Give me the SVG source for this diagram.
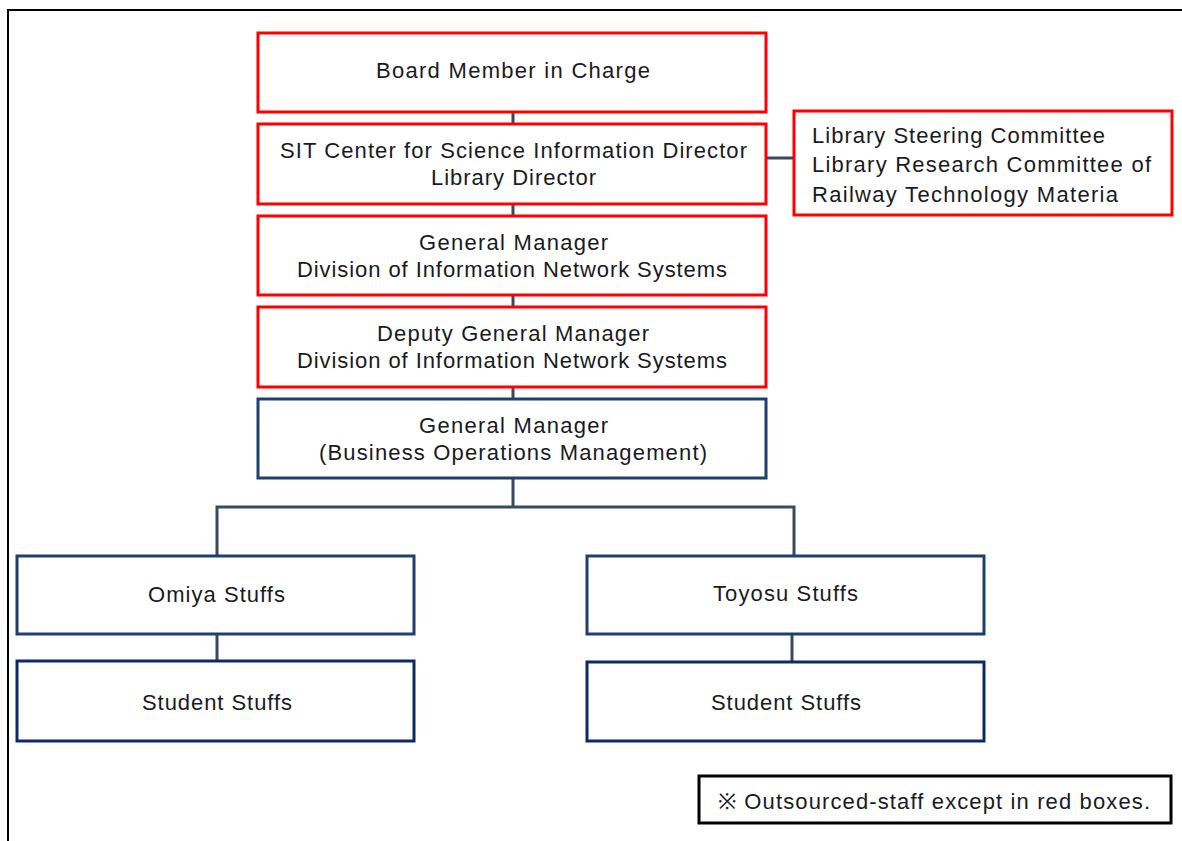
<svg xmlns="http://www.w3.org/2000/svg" width="1182" height="841" viewBox="0 0 1182 841">
<style>
.red{fill:#fff;stroke:#ff0000;stroke-width:3}
.blue{fill:#fff;stroke:#1f3f6e;stroke-width:3}
.navy{fill:#fff;stroke:#0c2a66;stroke-width:3}
.note{fill:#fff;stroke:#000;stroke-width:3}
text{font-family:"Liberation Sans",Arial,sans-serif;font-size:22px;fill:#1a1a22}
.con{fill:none;stroke:#3a4a5e;stroke-width:3}
</style>
<rect x="0" y="0" width="1182" height="841" fill="#fff"/>
<path d="M8,841 V10 H1182" fill="none" stroke="#000" stroke-width="2"/>
<g id="connectors">
<path class="con" d="M513,112 V124 M513,204 V216 M513,295 V307 M513,387 V399 M766,158 H794"/>
<path class="con" d="M513,478 V507 M217,556 V507 H794 V556 M217,634 V661 M792,634 V662"/>
</g>
<g id="board"><rect class="red" x="258" y="33" width="508" height="79"/><text x="376" y="78" textLength="274" lengthAdjust="spacing">Board Member in Charge</text></g>
<g id="sit"><rect class="red" x="258" y="124" width="508" height="80"/><text x="280" y="158" textLength="467" lengthAdjust="spacing">SIT Center for Science Information Director</text><text x="431" y="185" textLength="165" lengthAdjust="spacing">Library Director</text></g>
<g id="committee"><rect class="red" x="794" y="111" width="378" height="104"/><text x="812" y="143" textLength="293" lengthAdjust="spacing">Library Steering Committee</text><text x="812" y="172" textLength="339" lengthAdjust="spacing">Library Research Committee of</text><text x="812" y="202" textLength="306" lengthAdjust="spacing">Railway Technology Materia</text></g>
<g id="gm-division"><rect class="red" x="258" y="216" width="508" height="79"/><text x="419" y="250" textLength="189" lengthAdjust="spacing">General Manager</text><text x="297" y="277" textLength="430" lengthAdjust="spacing">Division of Information Network Systems</text></g>
<g id="deputy"><rect class="red" x="258" y="307" width="508" height="80"/><text x="377" y="341" textLength="272" lengthAdjust="spacing">Deputy General Manager</text><text x="297" y="368" textLength="430" lengthAdjust="spacing">Division of Information Network Systems</text></g>
<g id="gm-business"><rect class="blue" x="258" y="399" width="508" height="79"/><text x="419" y="433" textLength="189" lengthAdjust="spacing">General Manager</text><text x="319" y="460" textLength="388" lengthAdjust="spacing">(Business Operations Management)</text></g>
<g id="omiya"><rect class="blue" x="17" y="556" width="397" height="78"/><text x="148" y="602" textLength="137" lengthAdjust="spacing">Omiya Stuffs</text></g>
<g id="toyosu"><rect class="blue" x="587" y="556" width="397" height="78"/><text x="713" y="601" textLength="145" lengthAdjust="spacing">Toyosu Stuffs</text></g>
<g id="student-omiya"><rect class="navy" x="17" y="661" width="397" height="80"/><text x="142" y="710" textLength="150" lengthAdjust="spacing">Student Stuffs</text></g>
<g id="student-toyosu"><rect class="navy" x="587" y="662" width="397" height="79"/><text x="711" y="710" textLength="150" lengthAdjust="spacing">Student Stuffs</text></g>
<g id="note"><rect class="note" x="699" y="776" width="472" height="47"/><text x="718" y="809" textLength="432" lengthAdjust="spacing">※ Outsourced-staff except in red boxes.</text></g>
</svg>
